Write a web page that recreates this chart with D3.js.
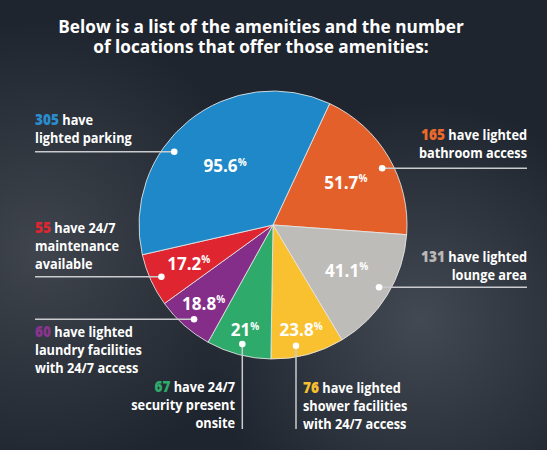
<!DOCTYPE html>
<html><head><meta charset="utf-8">
<script src="https://cdn.jsdelivr.net/npm/d3@7"></script>
<style>html,body{margin:0;padding:0;background:#20262f;}svg{display:block;}</style>
</head><body>
<svg id="c" width="547" height="450"></svg>
<script>
// ---- data (slice order clockwise, starting at the top-right) ----
const counts = [165, 131, 76, 67, 60, 55, 305];
const percents = ["51.7", "41.1", "23.8", "21", "18.8", "17.2", "95.6"];
const headlines = [" have lighted", " have lighted", " have lighted", " have 24/7", " have lighted", " have 24/7", " have"];
const descriptions = [
  ["bathroom access"],
  ["lounge area"],
  ["shower facilities", "with 24/7 access"],
  ["security present", "onsite"],
  ["laundry facilities", "with 24/7 access"],
  ["maintenance", "available"],
  ["lighted parking"]
];
const titleLines = ["Below is a list of the amenities and the number", "of locations that offer those amenities:"];

// ---- styles / layout ----
const colors = ["#e4602a", "#bebcb8", "#f9c130", "#2eaa6b", "#852e89", "#de2530", "#1e88c8"];
const numColors = ["#ec6a2c", "#b9b8b5", "#f7c02f", "#2eaa6b", "#8a348d", "#e0262f", "#2a8dcf"];
const labelRadius = [0.63, 0.645, 0.81, 0.81, 0.78, 0.69, 0.57];
const layout = [
  {anchor: "end",   x: 527, y: 140,   dir: "h", pos: 168.3, end: 527},
  {anchor: "end",   x: 527, y: 261.7, dir: "h", pos: 287.3, end: 527},
  {anchor: "start", x: 303, y: 393.3, dir: "v", pos: 296,   end: 429},
  {anchor: "end",   x: 235, y: 391.7, dir: "v", pos: 242.3, end: 429},
  {anchor: "start", x: 35,  y: 337.3, dir: "h", pos: 319.3, end: 35},
  {anchor: "start", x: 35,  y: 233.3, dir: "h", pos: 276.7, end: 35},
  {anchor: "start", x: 35,  y: 125,   dir: "h", pos: 151.7, end: 35}
];

const W = 547, H = 450, cx = 273, cy = 225, R = 134, dotR = 123;
const svg = d3.select("#c");
const defs = svg.append("defs");

// background
const g1 = defs.append("radialGradient").attr("id", "glowL").attr("gradientUnits", "userSpaceOnUse")
  .attr("cx", 40).attr("cy", 250).attr("r", 230);
g1.append("stop").attr("offset", 0).attr("stop-color", "#4a4f58").attr("stop-opacity", 0.75);
g1.append("stop").attr("offset", 1).attr("stop-color", "#4a4f58").attr("stop-opacity", 0);
const g2 = defs.append("radialGradient").attr("id", "glowR").attr("gradientUnits", "userSpaceOnUse")
  .attr("cx", 420).attr("cy", 320).attr("r", 220);
g2.append("stop").attr("offset", 0).attr("stop-color", "#4c525b").attr("stop-opacity", 0.8);
g2.append("stop").attr("offset", 1).attr("stop-color", "#4c525b").attr("stop-opacity", 0);
svg.append("rect").attr("width", W).attr("height", H).attr("fill", "#1f252e");
svg.append("rect").attr("width", W).attr("height", H).attr("fill", "url(#glowL)");
svg.append("rect").attr("width", W).attr("height", H).attr("fill", "url(#glowR)");

// title
titleLines.forEach((t, i) => {
  svg.append("text").attr("text-anchor", "middle")
    .attr("font-family", "'Open Sans', sans-serif").attr("font-weight", 700)
    .attr("font-size", 17.5).attr("fill", "#ffffff")
    .attr("transform", `translate(261,${33.3 + i * 20}) scale(0.985,1)`)
    .text(t);
});

// pie
const pie = d3.pie().sort(null).value(d => d)
  .startAngle(25 * Math.PI / 180).endAngle(25 * Math.PI / 180 + 2 * Math.PI);
const arcs = pie(counts);
const arc = d3.arc().innerRadius(0).outerRadius(R);
const pg = svg.append("g").attr("transform", `translate(${cx},${cy})`);
pg.selectAll("path").data(arcs).join("path")
  .attr("d", arc).attr("fill", (d, i) => colors[i])
  .attr("stroke", "#e8e8e8").attr("stroke-width", 1).attr("stroke-opacity", 0.85);

// percent labels
arcs.forEach((d, i) => {
  const a = (d.startAngle + d.endAngle) / 2;
  const r = R * labelRadius[i];
  const x = cx + r * Math.sin(a), y = cy - r * Math.cos(a);
  const t = svg.append("text").attr("text-anchor", "middle")
    .attr("font-family", "'Open Sans', sans-serif").attr("font-weight", 700)
    .attr("fill", "#ffffff")
    .attr("transform", `translate(${x},${y + 6.5}) scale(0.95,1)`);
  t.append("tspan").attr("font-size", 18).text(percents[i]);
  t.append("tspan").attr("font-size", 10.5).attr("dy", -6.5).text("%");
});

// leader lines, dots and description labels
arcs.forEach((d, i) => {
  const L = layout[i];
  let dx, dy;
  if (L.dir === "h") {
    const oy = L.pos - cy;
    const ox = Math.sqrt(dotR * dotR - oy * oy) * (L.end > cx ? 1 : -1);
    dx = cx + ox; dy = L.pos;
    svg.append("line").attr("x1", dx).attr("y1", dy).attr("x2", L.end).attr("y2", dy)
      .attr("stroke", "#c9cbce").attr("stroke-width", 1.5);
  } else {
    const ox = L.pos - cx;
    const oy = Math.sqrt(dotR * dotR - ox * ox);
    dx = L.pos; dy = cy + oy;
    svg.append("line").attr("x1", dx).attr("y1", dy).attr("x2", dx).attr("y2", L.end)
      .attr("stroke", "#c9cbce").attr("stroke-width", 1.5);
  }
  svg.append("circle").attr("cx", dx).attr("cy", dy).attr("r", 3.3).attr("fill", "#ffffff");

  const lines = [[String(counts[i]), headlines[i]]].concat(descriptions[i].map(s => [null, s]));
  lines.forEach((ln, k) => {
    const t = svg.append("text").attr("text-anchor", L.anchor)
      .attr("font-family", "'Open Sans', sans-serif").attr("font-weight", 700)
      .attr("font-size", 14.5).attr("fill", "#ffffff")
      .attr("transform", `translate(${L.x},${L.y + k * 18}) scale(0.88,1)`);
    if (ln[0] !== null) {
      t.append("tspan").attr("fill", numColors[i]).attr("font-weight", 800).attr("font-size", 15.5).text(ln[0]);
    }
    t.append("tspan").text(ln[1]);
  });
});
</script>
</body></html>
